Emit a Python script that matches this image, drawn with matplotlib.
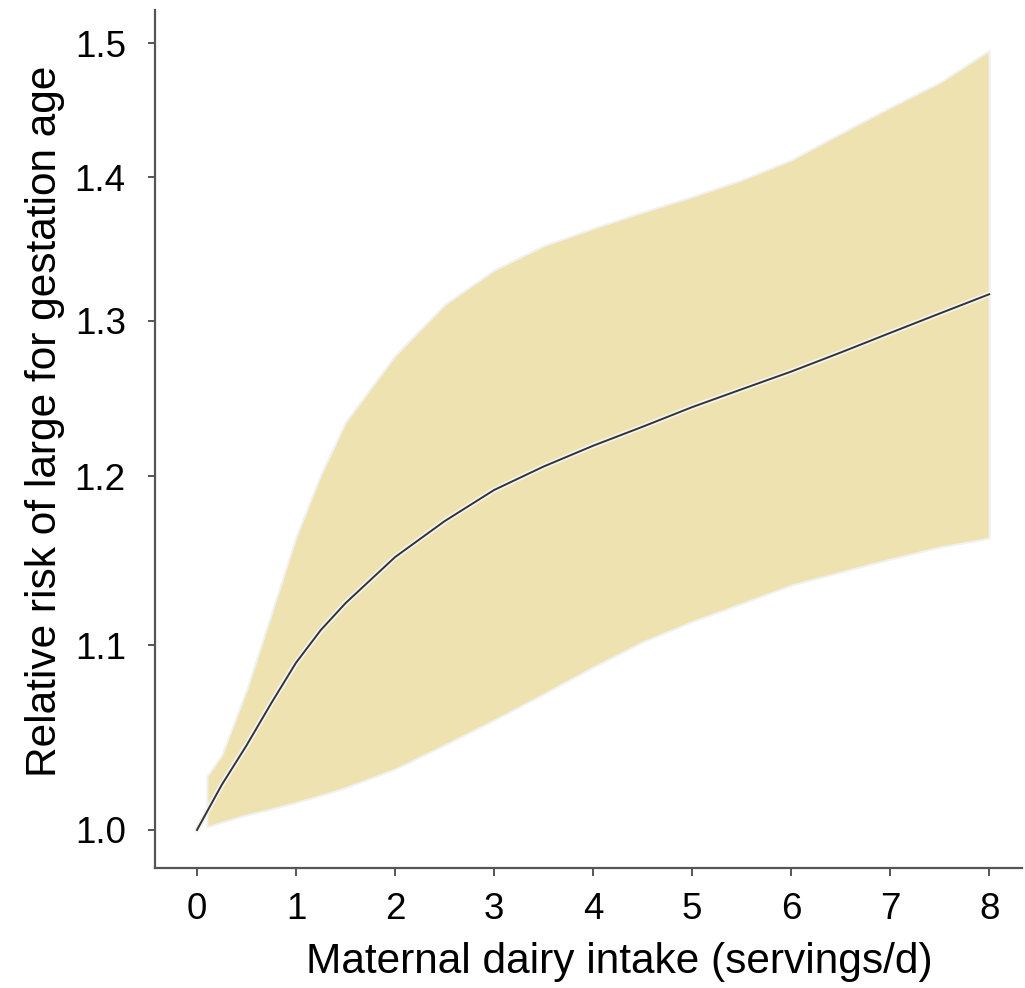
import numpy as np
import matplotlib
matplotlib.use("Agg")
import matplotlib.pyplot as plt
from matplotlib.ticker import FixedLocator, FixedFormatter, NullLocator

plt.rcParams["font.family"] = ["Liberation Sans", "DejaVu Sans"]

# ── Data ──────────────────────────────────────────────────────────────────────
intake = [0.0, 0.25, 0.5, 0.75, 1.0, 1.25, 1.5, 2.0, 2.5, 3.0, 3.5, 4.0, 4.5,
          5.0, 5.5, 6.0, 6.5, 7.0, 7.5, 8.0]
rr = [1.000, 1.0235, 1.0445, 1.0675, 1.0900, 1.1085, 1.1240, 1.151, 1.1725, 1.1915,
      1.206, 1.219, 1.231, 1.2435, 1.255, 1.2665, 1.279, 1.292, 1.305, 1.318]

ci_x = [0.1, 0.25, 0.5, 0.75, 1.0, 1.25, 1.5, 2.0, 2.5, 3.0, 3.5, 4.0, 4.5,
        5.0, 5.5, 6.0, 6.5, 7.0, 7.5, 8.0]
ci_upper = [1.028, 1.0394, 1.0748, 1.1177, 1.163, 1.201, 1.234, 1.277, 1.311, 1.3345,
            1.3514, 1.3636, 1.375, 1.386, 1.398, 1.4125, 1.432, 1.4513, 1.470, 1.4945]
ci_lower = [1.0015, 1.0041, 1.0078, 1.0109, 1.0143, 1.018, 1.0221, 1.0319, 1.0448, 1.0583,
            1.0726, 1.0876, 1.1018, 1.1134, 1.1238, 1.1345, 1.1422, 1.1498, 1.157, 1.1623]

y_ticks = [1.0, 1.1, 1.2, 1.3, 1.4, 1.5]
x_ticks = [0, 1, 2, 3, 4, 5, 6, 7, 8]

BAND = "#EEE2B0"
AXIS = "#555555"

# ── Figure ────────────────────────────────────────────────────────────────────
fig = plt.figure(figsize=(10.25, 9.88), dpi=100)
ax = fig.add_axes([0.1512, 0.1215, 0.846, 0.8684])

ax.fill_between(ci_x, ci_lower, ci_upper, facecolor=BAND,
                edgecolor="#f1f1ef", linewidth=1.5, zorder=2)
ax.plot(intake, rr, color="#f4f3ee", linewidth=4.0, solid_capstyle="round", zorder=3)
ax.plot(intake, rr, color="#333333", linewidth=1.4, zorder=4)

# ── Axes ──────────────────────────────────────────────────────────────────────
ax.set_yscale("log")
ax.set_xlim(-0.424, 8.333)
ax.set_ylim(0.9806, 1.526)

ax.yaxis.set_major_locator(FixedLocator(y_ticks))
ax.yaxis.set_major_formatter(FixedFormatter([f"{v:.1f}" for v in y_ticks]))
ax.yaxis.set_minor_locator(NullLocator())
ax.set_xticks(x_ticks)
ax.set_xticklabels([str(v) for v in x_ticks])

ax.spines[["top", "right"]].set_visible(False)
for s in ["left", "bottom"]:
    ax.spines[s].set_color(AXIS)
    ax.spines[s].set_linewidth(1.6)

ax.tick_params(axis="y", length=5, width=1.4, color=AXIS, pad=16, labelsize=26.5, labelcolor="black")
ax.tick_params(axis="x", length=6, width=1.4, color=AXIS, pad=11, labelsize=26.5, labelcolor="black")

ax.set_xlabel("Maternal dairy intake (servings/d)", fontsize=30.5)
ax.xaxis.set_label_coords(0.536, -0.086)
ax.set_ylabel("Relative risk of large for gestation age", fontsize=30.5)
ax.yaxis.set_label_coords(-0.104, 0.52)

fig.savefig("out.png", dpi=100, facecolor="white")
plt.close(fig)
